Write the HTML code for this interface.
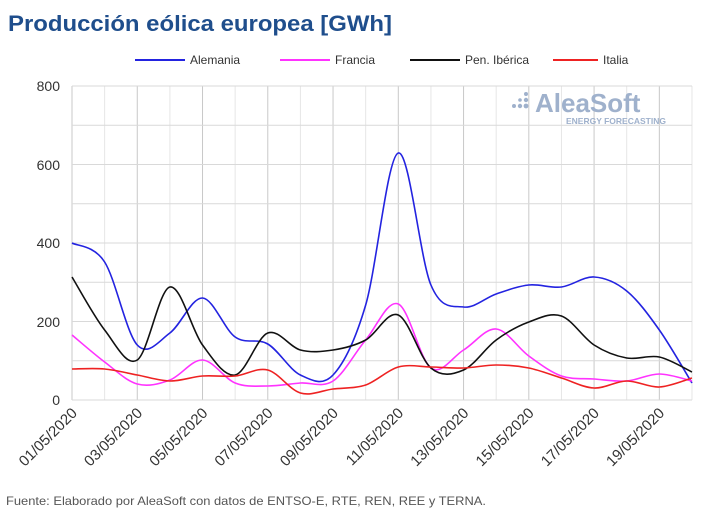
<!DOCTYPE html>
<html><head><meta charset="utf-8"><style>
body{margin:0;background:#fff;width:703px;height:510px;overflow:hidden;font-family:"Liberation Sans",sans-serif}
</style></head><body>
<svg width="703" height="510" xmlns="http://www.w3.org/2000/svg" font-family="Liberation Sans, sans-serif">
<text x="8" y="31" font-size="22" font-weight="bold" fill="#1f4e8c" textLength="384" lengthAdjust="spacingAndGlyphs">Producción eólica europea [GWh]</text>
<g font-size="12" fill="#333">
<line x1="135" y1="60" x2="185" y2="60" stroke="#2323e0" stroke-width="2"/><text x="190" y="64">Alemania</text>
<line x1="280" y1="60" x2="330" y2="60" stroke="#ff33ff" stroke-width="2"/><text x="335" y="64">Francia</text>
<line x1="410" y1="60" x2="460" y2="60" stroke="#111" stroke-width="2"/><text x="441" y="64" dx="24">Pen. Ibérica</text>
<line x1="553" y1="60" x2="598" y2="60" stroke="#ee2222" stroke-width="2"/><text x="603" y="64">Italia</text>
</g>
<g id="grid" stroke="#d9d9d9" stroke-width="1"></g>
<text x="505" y="112" font-size="26" font-weight="bold" fill="#9fb1cc" dx="30">AleaSoft</text>
<text x="566" y="124" font-size="8.5" font-weight="bold" fill="#9fb1cc">ENERGY FORECASTING</text>
<g fill="#9fb1cc"><circle cx="514" cy="106" r="2"/><circle cx="520" cy="106" r="2.2"/><circle cx="526" cy="106" r="2.4"/><circle cx="526" cy="100" r="2.2"/><circle cx="526" cy="94" r="2"/><circle cx="520" cy="100" r="1.8"/></g>
<g font-size="14" fill="#333" text-anchor="end">
<text x="60" y="405">0</text><text x="60" y="327">200</text><text x="60" y="248">400</text><text x="60" y="170">600</text><text x="60" y="91">800</text>
</g>
<g id="xl" font-size="15" fill="#333"></g>
<g id="series" fill="none" stroke-width="1.6"></g>
<text x="6" y="505" font-size="12" fill="#555" textLength="480" lengthAdjust="spacingAndGlyphs">Fuente: Elaborado por AleaSoft con datos de ENTSO-E, RTE, REN, REE y TERNA.</text>
</svg>
<script>
var ns="http://www.w3.org/2000/svg";
function X(d){return 72+(d-1)*32.63;}
var g=document.getElementById('grid');
for(var d=1;d<=20;d++){var l=document.createElementNS(ns,'line');l.setAttribute('x1',X(d));l.setAttribute('x2',X(d));l.setAttribute('y1',86);l.setAttribute('y2',400);if(d%2==0)l.setAttribute('stroke','#e6e6e6');else l.setAttribute('stroke','#c8c8c8');g.appendChild(l);}
for(var v=0;v<=800;v+=100){var y=400-v*0.3925;var l=document.createElementNS(ns,'line');l.setAttribute('x1',72);l.setAttribute('x2',692);l.setAttribute('y1',y);l.setAttribute('y2',y);g.appendChild(l);}
var xl=document.getElementById('xl');
for(var d=1;d<=19;d+=2){var t=document.createElementNS(ns,'text');var x=X(d)+6,y=414;t.setAttribute('x',x);t.setAttribute('y',y);t.setAttribute('text-anchor','end');t.setAttribute('transform','rotate(-45 '+x+' '+y+')');t.textContent=(d<10?'0':'')+d+'/05/2020';xl.appendChild(t);}
var S=[
["#2323e0",[243,262,345,333,298,337,344,375,375,305,153,285,307,294,285,287,277,291,330,383]],
["#ff33ff",[335,362,384,380,360,383,386,383,381,340,304,368,350,329,356,376,379,381,374,381]],
["#111",[277,330,360,287,345,375,333,350,350,340,315,368,370,340,322,316,345,358,357,372]],
["#ee2222",[369,369,375,381,376,376,370,393,389,385,367,367,368,365,368,378,388,381,387,378]]];
var sg=document.getElementById('series');
S.forEach(function(s){var p=s[1].map(function(y,i){return [X(i+1),y];});var d='M'+p[0][0]+','+p[0][1];
for(var i=0;i<p.length-1;i++){var p0=p[i-1]||p[i],p1=p[i],p2=p[i+1],p3=p[i+2]||p2;
d+=' C'+(p1[0]+(p2[0]-p0[0])/6)+','+(p1[1]+(p2[1]-p0[1])/6)+' '+(p2[0]-(p3[0]-p1[0])/6)+','+(p2[1]-(p3[1]-p1[1])/6)+' '+p2[0]+','+p2[1];}
var e=document.createElementNS(ns,'path');e.setAttribute('d',d);e.setAttribute('stroke',s[0]);sg.appendChild(e);});
</script>
</body></html>
